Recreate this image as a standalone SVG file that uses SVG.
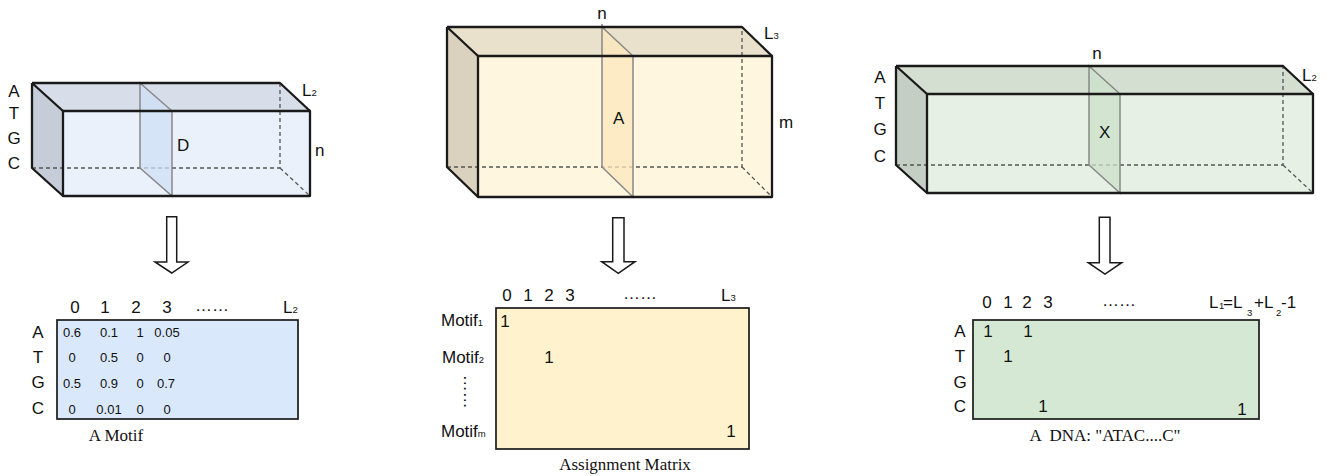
<svg xmlns="http://www.w3.org/2000/svg" width="1332" height="476" viewBox="0 0 1332 476">
<style>
.lbl{font-family:"Liberation Sans",Arial,sans-serif;font-size:17px;fill:#111}
.mid{text-anchor:middle}
.val{font-family:"Liberation Sans",Arial,sans-serif;font-size:13px;fill:#111;text-anchor:middle}
.sub{font-size:9.5px}
.cap{font-family:"Liberation Serif","Times New Roman",serif;font-size:17px;fill:#111;text-anchor:middle}
.edge{fill:none;stroke:#1a1a1a;stroke-width:2.3;stroke-linejoin:round}
.hid{fill:none;stroke:#555;stroke-width:1.3;stroke-dasharray:4 3}
.slice{stroke:#888;stroke-width:1.5}
.mat{stroke:#1a1a1a;stroke-width:1.7}
.arrow{fill:#fff;stroke:#1a1a1a;stroke-width:1.5;stroke-linejoin:miter}
</style>

<g id="cube-motif">
  <polygon points="32,83 280,83 310,111 63,111" fill="#D7DDE9"/>
  <polygon points="32,83 63,111 63,196 32,168" fill="#C7CDD8"/>
  <rect x="63" y="111" width="247" height="85" fill="#EAF1FB"/>
  <polyline class="hid" points="32,168 280,168 280,83"/>
  <line class="hid" x1="280" y1="168" x2="310" y2="196"/>
  <polygon class="slice" points="140,83 172,111 172,196 140,168" fill="#CFDFF5" fill-opacity="0.75"/>
  <path class="edge" d="M32,83 H280 L310,111 M32,83 L63,111 M32,83 V168 L63,196"/>
  <rect class="edge" x="63" y="111" width="247" height="85"/>
  <text class="lbl mid" x="14" y="97">A</text>
  <text class="lbl mid" x="14" y="119">T</text>
  <text class="lbl mid" x="14" y="144">G</text>
  <text class="lbl mid" x="14" y="169">C</text>
  <text class="lbl" x="177" y="151">D</text>
  <text class="lbl" x="302" y="96">L<tspan class="sub">2</tspan></text>
  <text class="lbl" x="315" y="156">n</text>
</g>

<g id="cube-assign">
  <polygon points="447,27 742,27 772,56 478,56" fill="#E9E1CB"/>
  <polygon points="447,27 478,56 478,197 447,167" fill="#DAD2BE"/>
  <rect x="478" y="56" width="294" height="141" fill="#FFF6E0"/>
  <polyline class="hid" points="447,167 742,167 742,27"/>
  <line class="hid" x1="742" y1="167" x2="772" y2="197"/>
  <polygon class="slice" points="602,27 633,56 633,197 602,167" fill="#FBE7BC" fill-opacity="0.75"/>
  <line class="slice" x1="602" y1="24" x2="602" y2="27"/>
  <path class="edge" d="M447,27 H742 L772,56 M447,27 L478,56 M447,27 V167 L478,197"/>
  <rect class="edge" x="478" y="56" width="294" height="141"/>
  <text class="lbl mid" x="602" y="19">n</text>
  <text class="lbl" x="613" y="124">A</text>
  <text class="lbl" x="779" y="128">m</text>
  <text class="lbl" x="764" y="39">L<tspan class="sub">3</tspan></text>
</g>

<g id="cube-dna">
  <polygon points="896,66 1283,66 1313,94 927,94" fill="#D4DFD2"/>
  <polygon points="896,66 927,94 927,193 896,165" fill="#C4CEC4"/>
  <rect x="927" y="94" width="386" height="99" fill="#E6F0E5"/>
  <polyline class="hid" points="896,165 1283,165 1283,66"/>
  <line class="hid" x1="1283" y1="165" x2="1313" y2="193"/>
  <polygon class="slice" points="1089,66 1120,94 1120,193 1089,165" fill="#CCE2CA" fill-opacity="0.75"/>
  <path class="edge" d="M896,66 H1283 L1313,94 M896,66 L927,94 M896,66 V165 L927,193"/>
  <rect class="edge" x="927" y="94" width="386" height="99"/>
  <text class="lbl mid" x="1097" y="59">n</text>
  <text class="lbl mid" x="880" y="83">A</text>
  <text class="lbl mid" x="880" y="109">T</text>
  <text class="lbl mid" x="880" y="135">G</text>
  <text class="lbl mid" x="880" y="162">C</text>
  <text class="lbl" x="1099" y="138">X</text>
  <text class="lbl" x="1302" y="81">L<tspan class="sub">2</tspan></text>
</g>

<g id="connectors">
  <polygon class="arrow" points="166.7,216.7 176.7,216.7 176.7,262 188,262 171.7,273 155,262 166.7,262"/>
  <polygon class="arrow" points="612.7,217.7 624,217.7 624,261.7 635,261.7 618.3,273.3 601.7,261.7 612.7,261.7"/>
  <polygon class="arrow" points="1099.3,217.3 1110,217.3 1110,262.7 1121.7,262.7 1105,274 1088.3,262.7 1099.3,262.7"/>
</g>

<g id="matrix-motif">
  <rect class="mat" x="57" y="320" width="241" height="99" fill="#DAE8FC"/>
  <text class="lbl mid" x="75" y="313">0</text>
  <text class="lbl mid" x="105" y="313">1</text>
  <text class="lbl mid" x="136" y="313">2</text>
  <text class="lbl mid" x="167" y="313">3</text>
  <text class="lbl mid" x="212" y="311">……</text>
  <text class="lbl" x="283" y="313">L<tspan class="sub">2</tspan></text>
  <text class="lbl mid" x="38" y="338">A</text>
  <text class="lbl mid" x="38" y="363">T</text>
  <text class="lbl mid" x="38" y="388">G</text>
  <text class="lbl mid" x="38" y="414">C</text>
  <text class="val" x="72" y="337">0.6</text>
  <text class="val" x="109" y="337">0.1</text>
  <text class="val" x="140" y="337">1</text>
  <text class="val" x="167" y="337">0.05</text>
  <text class="val" x="72" y="362">0</text>
  <text class="val" x="109" y="362">0.5</text>
  <text class="val" x="140" y="362">0</text>
  <text class="val" x="167" y="362">0</text>
  <text class="val" x="72" y="388">0.5</text>
  <text class="val" x="109" y="388">0.9</text>
  <text class="val" x="140" y="388">0</text>
  <text class="val" x="166" y="388">0.7</text>
  <text class="val" x="72" y="414">0</text>
  <text class="val" x="109" y="414">0.01</text>
  <text class="val" x="140" y="414">0</text>
  <text class="val" x="167" y="414">0</text>
  <text class="cap" x="116" y="441">A Motif</text>
</g>

<g id="matrix-assign">
  <rect class="mat" x="496" y="308" width="253" height="141" fill="#FFF2CC"/>
  <text class="lbl mid" x="507" y="301">0</text>
  <text class="lbl mid" x="528" y="301">1</text>
  <text class="lbl mid" x="549" y="301">2</text>
  <text class="lbl mid" x="570" y="301">3</text>
  <text class="lbl mid" x="640" y="299">……</text>
  <text class="lbl" x="721" y="301">L<tspan class="sub">3</tspan></text>
  <text class="lbl" x="441" y="326">Motif<tspan class="sub">1</tspan></text>
  <text class="lbl" x="442" y="363">Motif<tspan class="sub">2</tspan></text>
  <text class="lbl mid" transform="translate(467.7,391.7) rotate(90)" y="4">……</text>
  <text class="lbl" x="441" y="437">Motif<tspan class="sub">m</tspan></text>
  <text class="lbl mid" x="505" y="327">1</text>
  <text class="lbl mid" x="549" y="363">1</text>
  <text class="lbl mid" x="731" y="437">1</text>
  <text class="cap" x="625" y="470">Assignment Matrix</text>
</g>

<g id="matrix-dna">
  <rect class="mat" x="973" y="320" width="286" height="99" fill="#D5E8D4"/>
  <text class="lbl mid" x="987" y="308">0</text>
  <text class="lbl mid" x="1008" y="308">1</text>
  <text class="lbl mid" x="1027" y="308">2</text>
  <text class="lbl mid" x="1048" y="308">3</text>
  <text class="lbl mid" x="1119" y="306">……</text>
  <text class="lbl"><tspan x="1209" y="308">L</tspan><tspan class="sub" x="1219" y="309">1</tspan><tspan x="1223" y="308">=L</tspan><tspan class="sub" x="1247" y="316">3</tspan><tspan x="1254" y="308">+L</tspan><tspan class="sub" x="1276" y="316">2</tspan><tspan x="1281" y="308">-1</tspan></text>
  <text class="lbl mid" x="960" y="337">A</text>
  <text class="lbl mid" x="960" y="362">T</text>
  <text class="lbl mid" x="960" y="388">G</text>
  <text class="lbl mid" x="960" y="412">C</text>
  <text class="lbl mid" x="988" y="337">1</text>
  <text class="lbl mid" x="1028" y="337">1</text>
  <text class="lbl mid" x="1008" y="362">1</text>
  <text class="lbl mid" x="1043" y="412">1</text>
  <text class="lbl mid" x="1242" y="415">1</text>
  <text class="cap" x="1105" y="441" xml:space="preserve">A  DNA: "ATAC....C"</text>
</g>
</svg>
